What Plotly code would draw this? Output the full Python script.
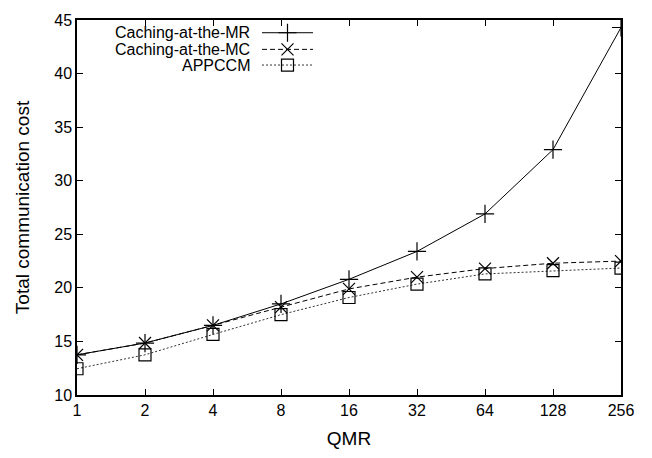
import plotly.graph_objects as go

qmr = [1, 2, 4, 8, 16, 32, 64, 128, 256]
tick_labels = ["1", "2", "4", "8", "16", "32", "64", "128", "256"]
mr = [13.75, 14.85, 16.5, 18.5, 20.8, 23.4, 26.9, 32.9, 44.3]
mc = [13.75, 14.85, 16.5, 18.2, 19.9, 21.0, 21.8, 22.3, 22.5]
appccm = [12.45, 13.75, 15.65, 17.5, 19.1, 20.35, 21.3, 21.6, 21.85]

names = ["Caching-at-the-MR", "Caching-at-the-MC", "APPCCM"]
series = [mr, mc, appccm]
dashes = ["solid", "5px,3px", "2px,2px"]
symbols = ["cross-thin-open", "x-thin-open", "square-open"]
colors = ["#000000", "#000000", "#333333"]
msizes = [13, 12, 12]

FONT = "Liberation Sans, Arial, sans-serif"

fig = go.Figure()
for n, s, d, sym, c, ms in zip(names, series, dashes, symbols, colors, msizes):
    fig.add_trace(go.Scatter(
        x=qmr, y=s, mode="lines+markers", name=n,
        line=dict(color=c, width=1, dash=d),
        marker=dict(symbol=sym, size=ms, color="#000000",
                    line=dict(color="#000000", width=1.2)),
        showlegend=False, xaxis="x", yaxis="y"))

# custom legend (text left, sample right) on a hidden pixel-like overlay axis
leg_y = [25, 42, 58]
for n, d, sym, c, ms, ly in zip(names, dashes, symbols, colors, msizes, leg_y):
    fig.add_trace(go.Scatter(
        x=[262, 313], y=[ly, ly], mode="lines",
        line=dict(color=c, width=1, dash=d),
        showlegend=False, xaxis="x2", yaxis="y2", hoverinfo="skip"))
    fig.add_trace(go.Scatter(
        x=[287.5], y=[ly], mode="markers",
        marker=dict(symbol=sym, size=ms, color="#000000",
                    line=dict(color="#000000", width=1.2)),
        showlegend=False, xaxis="x2", yaxis="y2", hoverinfo="skip"))
    fig.add_annotation(x=252, y=ly, xref="x2", yref="y2", text=n,
                       showarrow=False, xanchor="right", yanchor="middle",
                       font=dict(family=FONT, size=16, color="#000000"))

fig.update_layout(
    width=652, height=458,
    margin=dict(l=77, r=31, t=12, b=63),
    paper_bgcolor="white", plot_bgcolor="white",
    font=dict(family=FONT, size=16, color="#000000"),
    xaxis=dict(type="log", range=[0, 2.40824], tickvals=qmr, ticktext=tick_labels,
               ticks="inside", ticklen=6, tickcolor="#000000", showline=True,
               linecolor="#000000", linewidth=1.5, mirror="ticks", showgrid=False,
               zeroline=False, title=dict(text="QMR", standoff=14),
               tickfont=dict(size=16)),
    yaxis=dict(range=[10, 45], tickvals=[10, 15, 20, 25, 30, 35, 40, 45],
               ticks="inside", ticklen=6, tickcolor="#000000", showline=True,
               linecolor="#000000", linewidth=1.5, mirror="ticks", showgrid=False,
               zeroline=False, title=dict(text="Total communication cost", standoff=20),
               tickfont=dict(size=16)),
    xaxis2=dict(overlaying="x", range=[77, 621], visible=False, anchor="y2"),
    yaxis2=dict(overlaying="y", range=[395, 12], visible=False, anchor="x2"),
)

fig.write_html("out.html")
